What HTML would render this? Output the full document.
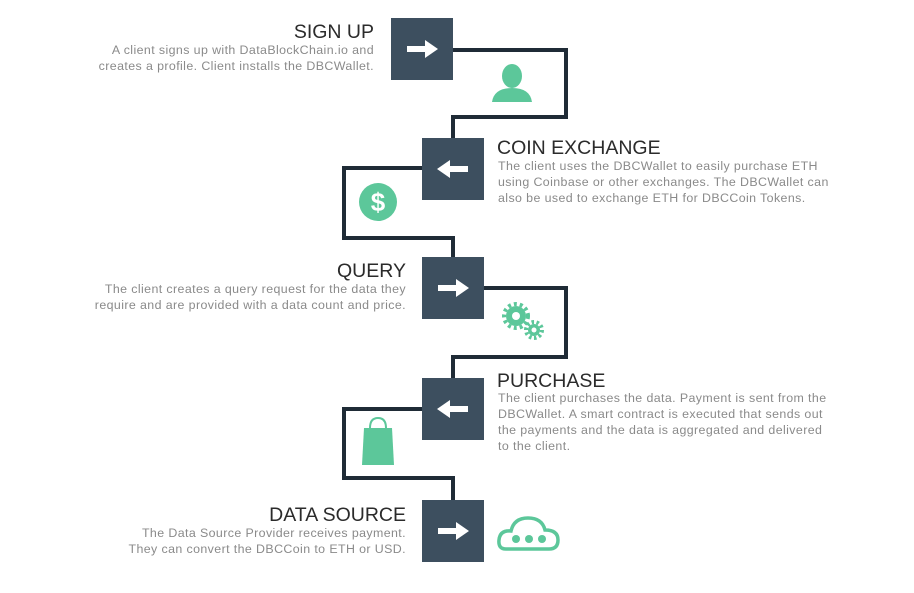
<!DOCTYPE html>
<html><head><meta charset="utf-8"><style>
body{margin:0;width:914px;height:593px;background:#fff;position:relative;overflow:hidden;font-family:"Liberation Sans",sans-serif}
.t{position:absolute;font-size:19.5px;color:#2b2b2b;line-height:22px;white-space:nowrap}
.b{position:absolute;font-size:12.4px;letter-spacing:0.4px;color:#8a8a8a;line-height:16px;white-space:nowrap}
.r{text-align:right}
</style></head><body>
<svg width="914" height="593" style="position:absolute;left:0;top:0">
<g fill="none" stroke="#1f2b36" stroke-width="4">
<polyline points="453,50 566,50 566,117 453,117 453,138"/>
<polyline points="422,168 344,168 344,238 453,238 453,257"/>
<polyline points="484,288 566,288 566,357 453,357 453,378"/>
<polyline points="422,409 344,409 344,478 453,478 453,500"/>
</g>
<g fill="#3d4f5f">
<rect x="391" y="18" width="62" height="62"/>
<rect x="422" y="138" width="62" height="62"/>
<rect x="422" y="257" width="62" height="62"/>
<rect x="422" y="378" width="62" height="62"/>
<rect x="422" y="500" width="62" height="62"/>
</g>
<g fill="#fff">
<polygon points="407,46 425,46 425,40 438,49 425,58 425,52 407,52"/>
<polygon points="468,166 450,166 450,160 437,169 450,178 450,172 468,172"/>
<polygon points="438,285 456,285 456,279 469,288 456,297 456,291 438,291"/>
<polygon points="468,406 450,406 450,400 437,409 450,418 450,412 468,412"/>
<polygon points="438,528 456,528 456,522 469,531 456,540 456,534 438,534"/>
</g>
<g fill="#5cc79a">
<ellipse cx="512" cy="76" rx="10" ry="12"/>
<path d="M492,102 Q494,88 512,88 Q530,88 532,102 Z"/>
<circle cx="378" cy="202" r="19"/>
<circle cx="516" cy="316" r="10"/>
<circle cx="534" cy="330" r="6"/>
<path d="M364,428 L392,428 L394,465 L362,465 Z"/>
</g>
<g stroke="#5cc79a" stroke-width="4" fill="none">
<circle cx="516" cy="316" r="12" stroke-dasharray="3 3"/>
<circle cx="534" cy="330" r="8" stroke-dasharray="2.5 2.5"/>
</g>
<circle cx="516" cy="316" r="4" fill="#fff"/>
<circle cx="534" cy="330" r="2.5" fill="#fff"/>
<path d="M370,428 Q370,418 378,418 Q386,418 386,428" stroke="#5cc79a" stroke-width="2" fill="none"/>
<text x="378" y="211" font-family="Liberation Sans" font-weight="bold" font-size="26" fill="#fff" text-anchor="middle">$</text>
<path d="M506,549 Q498,549 499,540 Q500,530 511,531 Q514,518 528,518 Q542,518 545,530 Q558,530 558,540 Q558,549 549,549 Z" fill="none" stroke="#5cc79a" stroke-width="3.5"/>
<g fill="#5cc79a"><circle cx="516" cy="539" r="4"/><circle cx="529" cy="539" r="4"/><circle cx="542" cy="539" r="4"/></g>
</svg>
<div class="t r" style="right:540px;top:21px">SIGN UP</div>
<div class="b r" style="right:540px;top:42px">A client signs up with DataBlockChain.io and<br>creates a profile. Client installs the DBCWallet.</div>
<div class="t" style="left:497px;top:137px">COIN EXCHANGE</div>
<div class="b" style="left:498px;top:158px">The client uses the DBCWallet to easily purchase ETH<br>using Coinbase or other exchanges. The DBCWallet can<br>also be used to exchange ETH for DBCCoin Tokens.</div>
<div class="t r" style="right:508px;top:260px">QUERY</div>
<div class="b r" style="right:508px;top:281px">The client creates a query request for the data they<br>require and are provided with a data count and price.</div>
<div class="t" style="left:497px;top:370px">PURCHASE</div>
<div class="b" style="left:498px;top:390px">The client purchases the data. Payment is sent from the<br>DBCWallet. A smart contract is executed that sends out<br>the payments and the data is aggregated and delivered<br>to the client.</div>
<div class="t r" style="right:508px;top:504px">DATA SOURCE</div>
<div class="b r" style="right:508px;top:525px">The Data Source Provider receives payment.<br>They can convert the DBCCoin to ETH or USD.</div>
</body></html>
